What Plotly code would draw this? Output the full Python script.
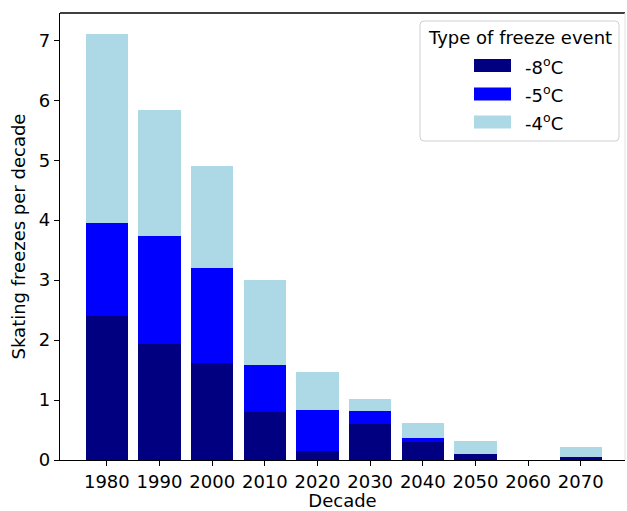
import plotly.graph_objects as go

# Skating freezes per decade, by freeze threshold (each class contains the colder ones)
decades = ["1980", "1990", "2000", "2010", "2020", "2030", "2040", "2050", "2060", "2070"]
freeze_minus4 = [7.10, 5.83, 4.90, 3.01, 1.46, 1.01, 0.62, 0.32, 0.0, 0.22]
freeze_minus5 = [3.96, 3.73, 3.20, 1.58, 0.84, 0.82, 0.37, 0.10, 0.0, 0.05]
freeze_minus8 = [2.40, 1.93, 1.61, 0.80, 0.15, 0.60, 0.30, 0.10, 0.0, 0.05]
series_names = ["-8<sup>o</sup>C", "-5<sup>o</sup>C", "-4<sup>o</sup>C"]
series_colors = ["#000080", "#0000ff", "#add8e6"]
legend_title = "Type of freeze event"

FONT = "DejaVu Sans, Verdana, sans-serif"
FS = 18
W, H = 627, 511
L, R, T, B = 60, 625, 13, 460  # plot area in pixels

x_idx = list(range(len(decades)))

fig = go.Figure()
# draw widest class first so the colder classes sit on top
for vals, name, col in [
    (freeze_minus4, series_names[2], series_colors[2]),
    (freeze_minus5, series_names[1], series_colors[1]),
    (freeze_minus8, series_names[0], series_colors[0]),
]:
    fig.add_trace(go.Bar(x=x_idx, y=vals, name=name, width=0.8,
                         marker=dict(color=col, line=dict(width=0)),
                         showlegend=False))


def px(x):
    return (x - L) / (R - L)


def py(y):
    return (B - y) / (B - T)


shapes = []
annotations = []

# legend frame with rounded corners
x0, x1, y0, y1 = px(420), px(619), py(141), py(21)
rx, ry = 4 / (R - L), 4 / (B - T)
path = (f"M {x0+rx},{y0} L {x1-rx},{y0} Q {x1},{y0} {x1},{y0+ry} "
        f"L {x1},{y1-ry} Q {x1},{y1} {x1-rx},{y1} "
        f"L {x0+rx},{y1} Q {x0},{y1} {x0},{y1-ry} "
        f"L {x0},{y0+ry} Q {x0},{y0} {x0+rx},{y0} Z")
shapes.append(dict(type="path", path=path, xref="paper", yref="paper",
                   fillcolor="rgba(255,255,255,0.85)",
                   line=dict(color="#d0d0d0", width=1), layer="above"))
annotations.append(dict(text=legend_title, x=px(519.5), y=py(37), xref="paper", yref="paper",
                        showarrow=False, xanchor="center", yanchor="middle",
                        font=dict(family=FONT, size=FS, color="black")))
for row_y, name, col in zip([65.5, 94, 122], series_names, series_colors):
    shapes.append(dict(type="rect", xref="paper", yref="paper",
                       x0=px(474), x1=px(511), y0=py(row_y + 6.5), y1=py(row_y - 6.5),
                       fillcolor=col, line=dict(width=0), layer="above"))
    annotations.append(dict(text=name, x=px(523), y=py(row_y), xref="paper", yref="paper",
                            showarrow=False, xanchor="left", yanchor="middle",
                            font=dict(family=FONT, size=FS, color="black")))

# top spine and faint right edge
shapes.append(dict(type="line", xref="paper", yref="paper", x0=0, x1=1, y0=1, y1=1,
                   line=dict(color="black", width=1.3)))
shapes.append(dict(type="line", xref="paper", yref="paper", x0=1, x1=1, y0=0, y1=1,
                   line=dict(color="#e2e2e2", width=1)))

fig.update_layout(
    width=W, height=H,
    margin=dict(l=L, r=W - R, t=T, b=H - B, pad=0),
    paper_bgcolor="white", plot_bgcolor="white",
    barmode="overlay", bargap=0,
    font=dict(family=FONT, size=FS, color="black"),
    shapes=shapes, annotations=annotations,
)
fig.update_xaxes(
    range=[-0.89, 9.84], tickmode="array", tickvals=x_idx, ticktext=decades,
    showgrid=False, zeroline=False, showline=True, linecolor="black", linewidth=1.3,
    ticks="outside", ticklen=5, tickwidth=1.3, tickcolor="black",
    tickfont=dict(family=FONT, size=FS, color="black"),
    title=dict(text="Decade", font=dict(family=FONT, size=FS, color="black"), standoff=5),
)
fig.update_yaxes(
    range=[0, 7.455], tickmode="array", tickvals=list(range(8)),
    showgrid=False, zeroline=False, showline=True, linecolor="black", linewidth=1.3,
    ticks="outside", ticklen=5, tickwidth=1.3, tickcolor="black",
    tickfont=dict(family=FONT, size=FS, color="black"),
    title=dict(text="Skating freezes per decade", font=dict(family=FONT, size=FS, color="black"),
               standoff=8),
)

fig.write_html("out.html")
